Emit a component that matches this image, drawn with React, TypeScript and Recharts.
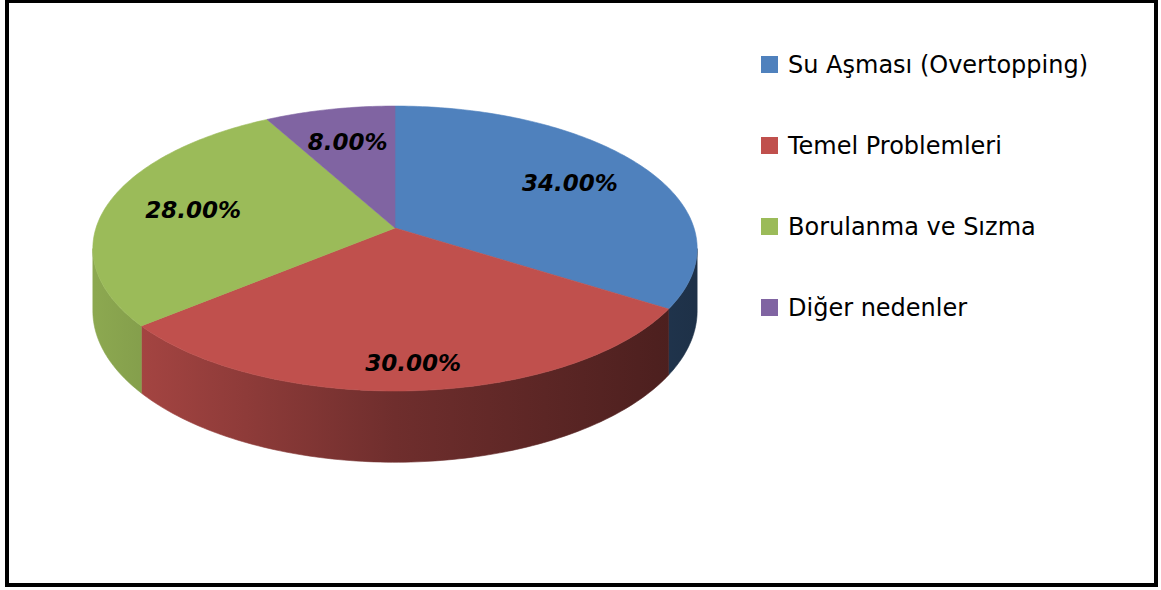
import React from 'react';
import { PieChart, Pie, Legend } from 'recharts';

const names = ['Su Aşması (Overtopping)', 'Temel Problemleri', 'Borulanma ve Sızma', 'Diğer nedenler'];
const values = [34, 30, 28, 8];
const colors = ['#4f81bd', '#c0504d', '#9bbb59', '#8064a2'];

const data = names.map((name, i) => ({ name, value: values[i], fill: colors[i] }));

// fake perspective for the 3d look
const TILT = 0.4666; // vertical squash of the disc
const PERSP = 0.144; // far side smaller than near side
const DEPTH = 61; // thickness of the disc

const rad = (a: number) => (a * Math.PI) / 180;

const project = (cx: number, cy: number, r: number, angle: number, rho: number, drop: number) => {
  const u = rho * Math.cos(rad(angle));
  const v = rho * Math.sin(rad(angle));
  const w = 1 + PERSP * v;
  return {
    x: cx + (r * u) / w,
    y: cy - (r * TILT * v) / w + (DEPTH * drop) / w,
  };
};

const arcPoints = (cx: number, cy: number, r: number, a1: number, a2: number, drop: number) => {
  const pts = [];
  const steps = Math.max(2, Math.ceil(Math.abs(a2 - a1)));
  for (let i = 0; i <= steps; i++) {
    const a = a1 + ((a2 - a1) * i) / steps;
    pts.push(project(cx, cy, r, a, 1, drop));
  }
  return pts;
};

const shade = (hex: string, f: number) => {
  const n = parseInt(hex.slice(1), 16);
  const c = [(n >> 16) & 255, (n >> 8) & 255, n & 255].map((v) => Math.round(v * f));
  return `rgb(${c.join(',')})`;
};

const TopShape = (props: any) => {
  const { cx, cy, outerRadius, startAngle, endAngle, fill } = props;
  const pts = arcPoints(cx, cy, outerRadius, startAngle, endAngle, 0);
  const d = `M${cx},${cy} ` + pts.map((p) => `L${p.x.toFixed(2)},${p.y.toFixed(2)}`).join(' ') + ' Z';
  return <path d={d} fill={fill} stroke={fill} strokeWidth={0.6} />;
};

// only the front of the rim is visible
const VIS_FROM = -180 + 8.3;
const VIS_TO = -8.3;

const WallShape = (props: any) => {
  const { cx, cy, outerRadius, startAngle, endAngle, fill, index } = props;
  const hi = Math.min(Math.max(startAngle, endAngle), VIS_TO);
  const lo = Math.max(Math.min(startAngle, endAngle), VIS_FROM);
  if (hi <= lo) return <g />;
  const top = arcPoints(cx, cy, outerRadius, hi, lo, 0);
  const bottom = arcPoints(cx, cy, outerRadius, lo, hi, 1);
  const d =
    'M' +
    top.map((p) => `${p.x.toFixed(2)},${p.y.toFixed(2)}`).join(' L') +
    ' L' +
    bottom.map((p) => `${p.x.toFixed(2)},${p.y.toFixed(2)}`).join(' L') +
    ' Z';
  const id = `wall-${index}`;
  return (
    <g>
      <defs>
        <linearGradient id={id} gradientUnits="userSpaceOnUse" x1={cx - outerRadius} y1={0} x2={cx + outerRadius} y2={0}>
          <stop offset="0%" stopColor={shade(fill, 0.9)} />
          <stop offset="50%" stopColor={shade(fill, 0.58)} />
          <stop offset="100%" stopColor={shade(fill, 0.38)} />
        </linearGradient>
      </defs>
      <path d={d} fill={`url(#${id})`} stroke={`url(#${id})`} strokeWidth={0.6} />
    </g>
  );
};

const renderLabel = (props: any) => {
  const { cx, cy, outerRadius, midAngle, percent } = props;
  const rho = 0.7 + 0.15 * Math.max(0, -Math.sin(rad(midAngle)));
  const p = project(cx, cy, outerRadius, midAngle, rho, 0);
  return (
    <text
      x={p.x}
      y={p.y}
      textAnchor="middle"
      dominantBaseline="central"
      fill="#000"
      fontFamily="'DejaVu Sans', sans-serif"
      fontSize={23}
      fontWeight="bold"
      fontStyle="italic"
    >
      {(percent * 100).toFixed(2)}%
    </text>
  );
};

const renderLegend = (props: any) => {
  const seen = new Set<string>();
  const items = (props.payload || []).filter((e: any) => {
    if (e.type === 'none' || seen.has(e.value)) return false;
    seen.add(e.value);
    return true;
  });
  items.sort((a: any, b: any) => names.indexOf(a.value) - names.indexOf(b.value));
  return (
    <div>
      {items.map((e: any) => (
        <div key={e.value} style={{ height: 81, display: 'flex', alignItems: 'center' }}>
          <span style={{ width: 17, height: 17, background: e.color, marginRight: 10, flex: 'none' }} />
          <span style={{ fontFamily: "'DejaVu Sans', sans-serif", fontSize: 24, color: '#000', whiteSpace: 'nowrap' }}>
            {e.value}
          </span>
        </div>
      ))}
    </div>
  );
};

export default function App() {
  return (
    <div style={{ position: 'absolute', left: 0, top: 0, width: 1161, height: 590, background: '#fff' }}>
      <PieChart width={1161} height={590}>
        <Pie
          data={data}
          dataKey="value"
          nameKey="name"
          cx={390}
          cy={223}
          outerRadius={299}
          startAngle={90}
          endAngle={-270}
          shape={WallShape}
          legendType="none"
          label={false}
          labelLine={false}
          isAnimationActive={false}
        />
        <Pie
          data={data}
          dataKey="value"
          nameKey="name"
          cx={390}
          cy={223}
          outerRadius={299}
          startAngle={90}
          endAngle={-270}
          shape={TopShape}
          legendType="square"
          label={renderLabel}
          labelLine={false}
          isAnimationActive={false}
        />
        <Legend
          content={renderLegend}
          wrapperStyle={{ position: 'absolute', left: 761, top: 24, width: 390 }}
        />
      </PieChart>
      <div
        style={{
          position: 'absolute',
          left: 5,
          top: -1,
          width: 1153,
          height: 588,
          border: '4px solid #000',
          boxSizing: 'border-box',
          pointerEvents: 'none',
        }}
      />
    </div>
  );
}
